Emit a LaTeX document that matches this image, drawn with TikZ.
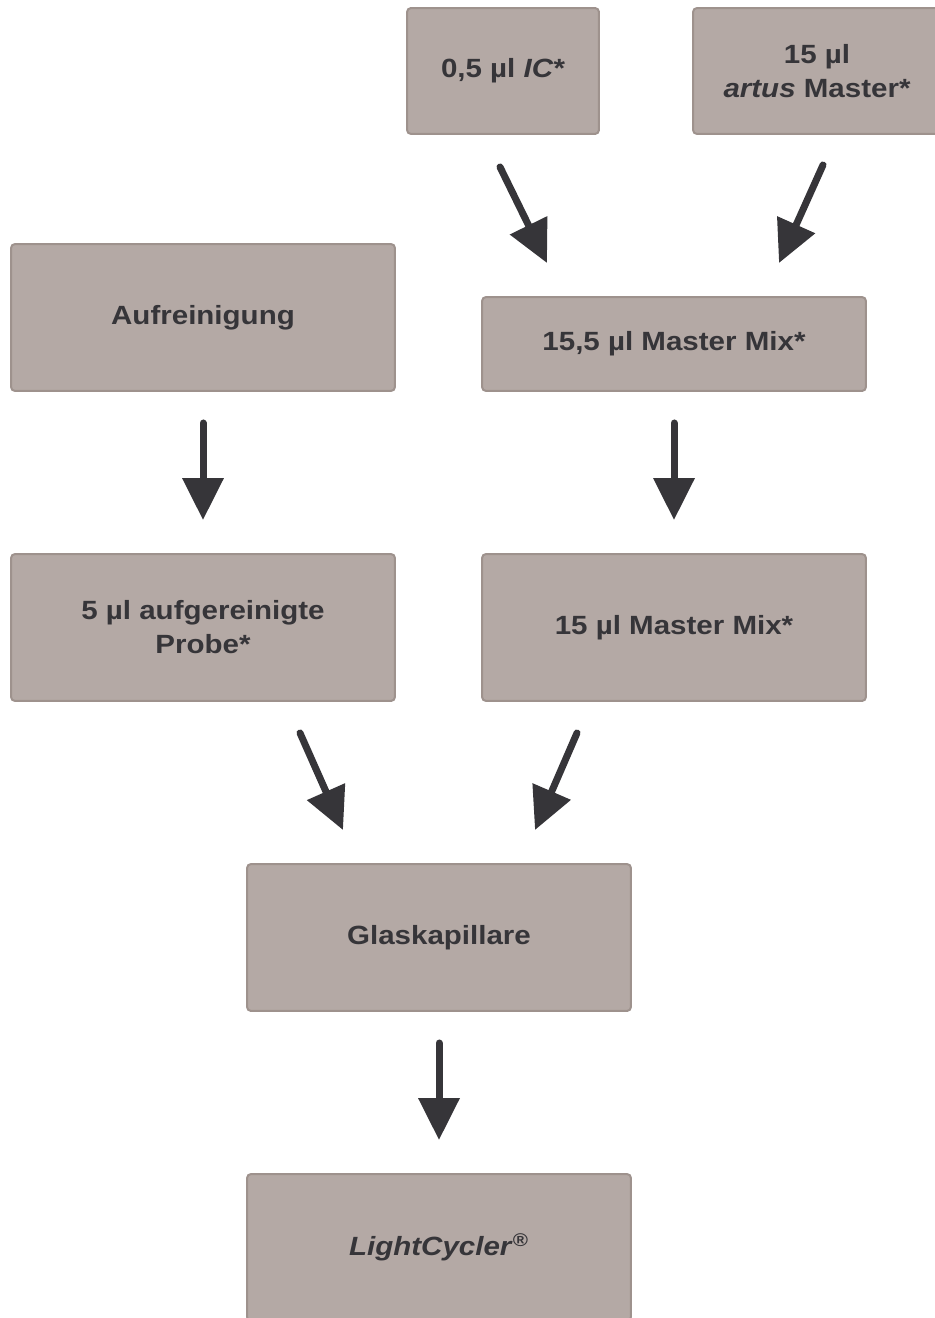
\documentclass[tikz,border=0pt]{standalone}
\usepackage{fontspec}
\setmainfont{Liberation Sans}[FakeStretch=1.12]
\usetikzlibrary{arrows.meta}
\definecolor{boxfill}{HTML}{B4A9A5}
\definecolor{boxline}{HTML}{9E928D}
\definecolor{arrowgrey}{HTML}{363539}

\begin{document}
\begin{tikzpicture}[x=0.02cm,y=-0.02cm,>={Triangle[width=0.8cm,length=0.84cm]},
    stepbox/.style={rectangle,rounded corners=0.08cm,draw=boxline,line width=0.04cm,fill=boxfill,
        text=arrowgrey,align=center,inner sep=0pt,font=\fontsize{15}{19.4}\selectfont\bfseries},
    wide box/.style={stepbox,minimum width=7.68cm,minimum height=2.94cm},
    flow/.style={->,draw=arrowgrey,line width=0.14cm,line cap=round}]

    \useasboundingbox (0,0) rectangle (934,1318);

    % top row
    \node (ic) [stepbox,minimum width=3.84cm,minimum height=2.52cm] at (503,71) {0,5 µl \textit{IC}*};
    \node (artus) [stepbox,minimum width=4.96cm,minimum height=2.52cm] at (817,71) {15 µl\\\textit{artus} Master*};

    % second row
    \node (auf) [wide box] at (203,317.5) {Aufreinigung};
    \node (mm155) [stepbox,minimum width=7.68cm,minimum height=1.88cm] at (674,344) {15,5 µl Master Mix*};

    % third row
    \node (probe) [wide box] at (203,627.5) {5 µl aufgereinigte\\Probe*};
    \node (mm15) [wide box] at (674,627.5) {15 µl Master Mix*};

    % bottom
    \node (glas) [wide box] at (439,937.5) {Glaskapillare};
    \node (lc) [wide box] at (439,1247.5) {\textit{LightCycler}\textsuperscript{®}};

    \draw[flow] ([shift={(-3,32)}]ic.south) -- ([shift={(-127,-33)}]mm155.north);
    \draw[flow] ([shift={(6,30)}]artus.south) -- ([shift={(105,-33)}]mm155.north);
    \draw[flow] ([shift={(0,31)}]auf.south) -- ([shift={(0,-33)}]probe.north);
    \draw[flow] ([shift={(0,31)}]mm155.south) -- ([shift={(0,-33)}]mm15.north);
    \draw[flow] ([shift={(97,31)}]probe.south) -- ([shift={(-96,-33)}]glas.north);
    \draw[flow] ([shift={(-97,31)}]mm15.south) -- ([shift={(96,-33)}]glas.north);
    \draw[flow] ([shift={(0,31)}]glas.south) -- ([shift={(0,-33)}]lc.north);
\end{tikzpicture}
\end{document}
